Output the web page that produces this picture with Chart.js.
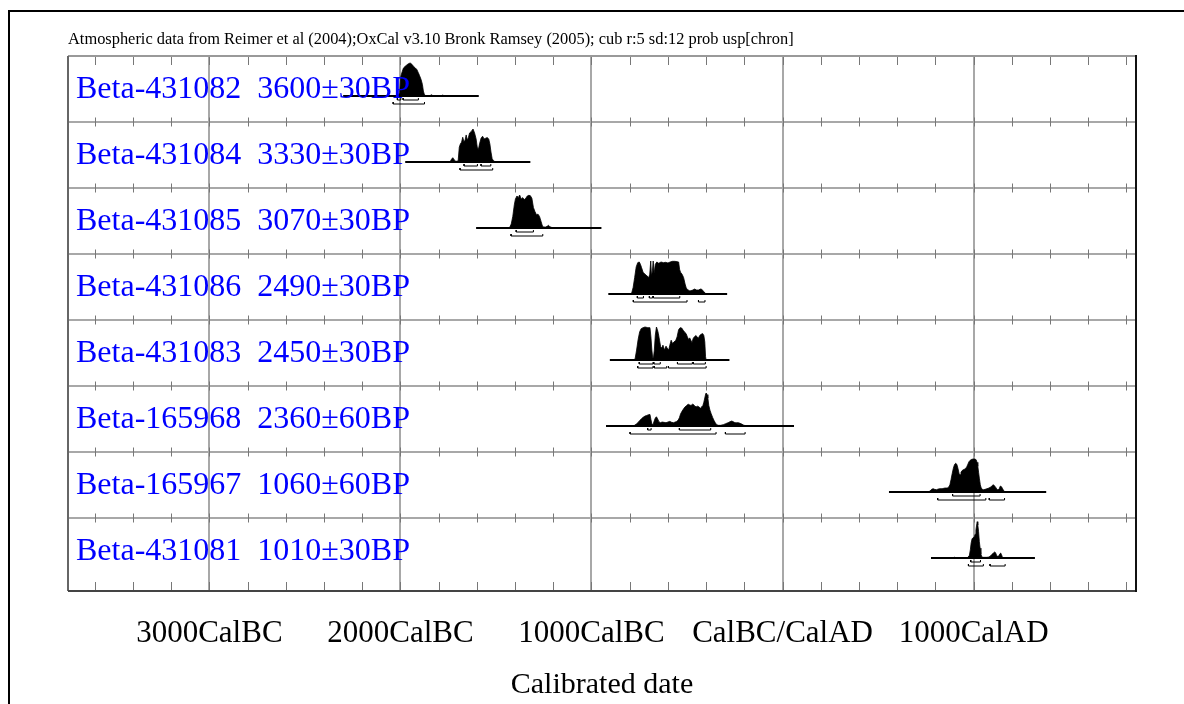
<!DOCTYPE html>
<html><head><meta charset="utf-8">
<script src="https://cdn.jsdelivr.net/npm/chart.js@4.4.1/dist/chart.umd.min.js"></script>
<style>html,body{margin:0;padding:0;background:#fff;}canvas{display:block;}</style>
</head><body>
<canvas id="c" width="1184" height="704"></canvas>
<script>
// ---------- text ----------
const headerText = 'Atmospheric data from Reimer et al (2004);OxCal v3.10 Bronk Ramsey (2005); cub r:5 sd:12 prob usp[chron]';
const axisTitle = 'Calibrated date';
const tickValues = [-3000, -2000, -1000, 0, 1000];
const tickLabels = ['3000CalBC', '2000CalBC', '1000CalBC', 'CalBC/CalAD', '1000CalAD'];
const sampleLabels = [
  'Beta-431082  3600\u00b130BP',
  'Beta-431084  3330\u00b130BP',
  'Beta-431085  3070\u00b130BP',
  'Beta-431086  2490\u00b130BP',
  'Beta-431083  2450\u00b130BP',
  'Beta-165968  2360\u00b160BP',
  'Beta-165967  1060\u00b160BP',
  'Beta-431081  1010\u00b130BP'
];
// calibration plot range of each sample (years, BC negative)
const plotRanges = [[-2300, -1590], [-1975, -1320], [-1604, -948], [-912, -290], [-904, -278], [-924, 60], [557, 1380], [777, 1321]];

// probability distributions [year, relative probability]
const beta431082 = [[-2040,0],[-2010,0.03],[-2004,0.1],[-1998,0.6],[-1990,0.75],[-1984,0.85],[-1975,0.9],[-1967,0.94],[-1958,0.98],[-1949,1.0],[-1940,0.96],[-1932,0.9],[-1922,0.85],[-1914,0.8],[-1906,0.7],[-1900,0.62],[-1892,0.5],[-1885,0.35],[-1880,0.15],[-1874,0.03],[-1866,0.01],[-1845,0.01],[-1838,0.04],[-1830,0.01],[-1800,0.01],[-1785,0.01],[-1778,0.03],[-1770,0]];
const beta431084 = [[-1760,0],[-1740,0.01],[-1733,0.08],[-1726,0.13],[-1718,0.06],[-1710,0.02],[-1698,0.03],[-1692,0.45],[-1686,0.55],[-1680,0.6],[-1674,0.75],[-1668,0.62],[-1662,0.65],[-1656,0.82],[-1650,0.66],[-1644,0.75],[-1638,0.88],[-1630,0.92],[-1620,1.0],[-1612,0.88],[-1604,0.7],[-1598,0.45],[-1592,0.38],[-1586,0.55],[-1578,0.72],[-1570,0.78],[-1562,0.7],[-1554,0.72],[-1546,0.74],[-1538,0.7],[-1532,0.55],[-1526,0.3],[-1520,0.1],[-1512,0.03],[-1500,0]];
const beta431085 = [[-1440,0],[-1428,0.02],[-1420,0.12],[-1412,0.35],[-1404,0.7],[-1398,0.88],[-1390,0.97],[-1383,0.92],[-1376,1.0],[-1368,0.88],[-1360,0.92],[-1352,0.86],[-1344,0.9],[-1336,0.97],[-1328,0.99],[-1320,0.98],[-1312,0.9],[-1304,0.62],[-1296,0.5],[-1288,0.4],[-1280,0.42],[-1272,0.35],[-1264,0.2],[-1257,0.06],[-1250,0.03],[-1240,0.03],[-1232,0.05],[-1225,0.08],[-1218,0.04],[-1210,0.02],[-1195,0]];
const beta431086 = [[-800,0],[-790,0.02],[-782,0.2],[-774,0.5],[-766,0.82],[-758,0.95],[-750,0.97],[-744,0.9],[-738,0.8],[-730,0.66],[-720,0.6],[-710,0.55],[-700,0.5],[-695,0.6],[-690,1.0],[-686,0.55],[-681,0.7],[-677,1.0],[-672,0.62],[-666,0.9],[-658,0.97],[-648,0.93],[-636,0.97],[-624,0.95],[-612,0.96],[-600,0.94],[-588,0.97],[-576,0.99],[-564,0.99],[-552,0.98],[-544,0.97],[-539,0.75],[-534,0.66],[-526,0.6],[-518,0.5],[-510,0.3],[-504,0.18],[-496,0.13],[-488,0.1],[-480,0.1],[-470,0.12],[-460,0.15],[-450,0.12],[-440,0.12],[-430,0.15],[-422,0.14],[-414,0.08],[-408,0.05],[-402,0.01],[-395,0]];
const beta431083 = [[-780,0],[-772,0.03],[-764,0.3],[-756,0.62],[-748,0.85],[-740,0.95],[-730,0.98],[-720,1.0],[-705,0.98],[-694,0.98],[-689,0.7],[-684,0.3],[-680,0.08],[-676,0.05],[-671,0.3],[-666,0.75],[-660,1.0],[-655,0.92],[-650,0.8],[-644,0.6],[-638,0.4],[-632,0.36],[-626,0.45],[-618,0.3],[-610,0.42],[-604,0.36],[-596,0.3],[-590,0.45],[-583,0.6],[-576,0.5],[-568,0.55],[-560,0.58],[-552,0.7],[-544,0.92],[-536,0.98],[-528,0.97],[-520,0.9],[-512,0.84],[-505,0.8],[-498,0.7],[-492,0.62],[-486,0.67],[-480,0.6],[-474,0.52],[-468,0.65],[-462,0.7],[-454,0.74],[-446,0.7],[-440,0.66],[-434,0.74],[-426,0.78],[-418,0.8],[-412,0.74],[-407,0.55],[-403,0.1],[-400,0]];
const beta165968 = [[-790,0],[-775,0.02],[-765,0.06],[-754,0.12],[-745,0.18],[-737,0.23],[-728,0.27],[-720,0.3],[-711,0.32],[-702,0.34],[-694,0.35],[-689,0.2],[-684,0.06],[-678,0.04],[-672,0.15],[-666,0.24],[-660,0.28],[-654,0.22],[-648,0.14],[-640,0.1],[-630,0.12],[-620,0.11],[-610,0.1],[-600,0.12],[-590,0.14],[-580,0.11],[-570,0.1],[-562,0.12],[-554,0.14],[-546,0.18],[-540,0.25],[-534,0.36],[-526,0.45],[-518,0.52],[-510,0.58],[-502,0.62],[-494,0.66],[-486,0.64],[-479,0.62],[-472,0.66],[-466,0.65],[-459,0.6],[-452,0.58],[-445,0.6],[-438,0.58],[-430,0.54],[-423,0.58],[-417,0.62],[-412,0.72],[-407,0.85],[-402,0.98],[-399,1.0],[-395,0.95],[-391,0.85],[-386,0.62],[-380,0.48],[-374,0.38],[-366,0.26],[-358,0.16],[-352,0.1],[-345,0.04],[-335,0.02],[-325,0.02],[-310,0.04],[-298,0.07],[-285,0.1],[-275,0.13],[-266,0.15],[-258,0.13],[-249,0.1],[-240,0.1],[-231,0.1],[-222,0.08],[-214,0.06],[-205,0.03],[-195,0.01],[-185,0]];
const beta165967 = [[740,0],[765,0.01],[772,0.03],[780,0.08],[788,0.1],[796,0.08],[806,0.07],[815,0.09],[824,0.1],[835,0.1],[850,0.12],[862,0.12],[870,0.15],[876,0.22],[882,0.38],[888,0.56],[894,0.72],[900,0.83],[906,0.87],[912,0.84],[918,0.72],[924,0.56],[929,0.52],[934,0.6],[940,0.65],[948,0.68],[956,0.7],[964,0.76],[970,0.84],[976,0.92],[982,0.96],[990,0.99],[998,1.0],[1006,1.0],[1013,0.98],[1018,0.9],[1022,0.78],[1026,0.6],[1030,0.42],[1035,0.22],[1040,0.12],[1046,0.08],[1052,0.07],[1060,0.08],[1070,0.1],[1080,0.12],[1090,0.15],[1098,0.2],[1104,0.22],[1110,0.18],[1116,0.14],[1122,0.08],[1128,0.06],[1134,0.1],[1140,0.18],[1146,0.16],[1152,0.1],[1158,0.03],[1165,0.01],[1175,0]];
const beta431081 = [[880,0],[896,0],[902,0.03],[908,0],[960,0],[970,0.02],[978,0.08],[983,0.25],[987,0.45],[992,0.58],[998,0.62],[1004,0.64],[1008,0.72],[1012,0.85],[1016,1.0],[1019,1.1],[1022,1.0],[1026,0.8],[1030,0.5],[1034,0.3],[1038,0.12],[1042,0.05],[1048,0.02],[1060,0.02],[1070,0.02],[1080,0.03],[1088,0.06],[1096,0.11],[1104,0.15],[1110,0.18],[1115,0.16],[1120,0.08],[1126,0.05],[1132,0.06],[1138,0.13],[1142,0.15],[1146,0.1],[1150,0.04],[1155,0.01],[1162,0]];

// 68.2% and 95.4% ranges
const oneSigma = [
  [[-2016,-1998],[-1986,-1906]],
  [[-1667,-1597],[-1578,-1527]],
  [[-1394,-1304]],
  [[-760,-728],[-697,-680],[-676,-538]],
  [[-750,-678],[-674,-640],[-550,-472],[-467,-404]],
  [[-706,-688],[-540,-376]],
  [[890,1034]],
  [[985,1036]]
];
const twoSigma = [
  [[-2038,-1874]],
  [[-1688,-1517]],
  [[-1421,-1255]],
  [[-781,-500],[-440,-406]],
  [[-758,-678],[-672,-606],[-597,-400]],
  [[-798,-348],[-299,-196]],
  [[812,1064],[1082,1162]],
  [[973,1051],[1086,1165]]
];
const distributions = [beta431082, beta431084, beta431085, beta431086, beta431083, beta165968, beta165967, beta431081];

// ---------- layout constants (in row units; one row = 66px) ----------
const ROW_PX = 66;
const BASE = 40 / ROW_PX, PEAK = 33 / ROW_PX, S1 = 4 / ROW_PX, S2 = 8 / ROW_PX, END = 2 / ROW_PX;
const YMAX = 535 / ROW_PX;
const SERIF = '"Liberation Serif", "Times New Roman", serif';

const datasets = [];
distributions.forEach((pairs, i) => {
  const base = i + BASE;
  datasets.push({
    data: pairs.map(([x, p]) => ({ x, y: base - p * PEAK })),
    fill: { value: base }, backgroundColor: '#000', borderColor: '#000', borderWidth: 0.8,
    pointRadius: 0, tension: 0
  });
  datasets.push({
    data: [{ x: plotRanges[i][0], y: base }, { x: plotRanges[i][1], y: base }],
    fill: false, borderColor: '#000', borderWidth: 2, pointRadius: 0
  });
  [[oneSigma[i], S1], [twoSigma[i], S2]].forEach(([rs, off]) => {
    const pts = [];
    rs.forEach(([a, b]) => {
      const y = base + off;
      pts.push({ x: a, y: y - END }, { x: a, y }, { x: b, y }, { x: b, y: y - END }, { x: b, y: null });
    });
    datasets.push({ data: pts, fill: false, borderColor: '#000', borderWidth: 1, pointRadius: 0, spanGaps: false });
  });
});

const decorPlugin = {
  id: 'decor',
  beforeDraw(chart) {
    const ctx = chart.ctx;
    ctx.save();
    ctx.fillStyle = '#fff';
    ctx.fillRect(0, 0, chart.width, chart.height);
    ctx.strokeStyle = '#000'; ctx.lineWidth = 2;
    ctx.beginPath();
    ctx.moveTo(9, chart.height + 2); ctx.lineTo(9, 11); ctx.lineTo(chart.width + 2, 11);
    ctx.stroke();
    ctx.restore();
  },
  afterDatasetsDraw(chart) {
    const ctx = chart.ctx, a = chart.chartArea, xs = chart.scales.x, ys = chart.scales.y;
    ctx.save();
    // minor ticks every 200 years
    ctx.strokeStyle = '#777'; ctx.lineWidth = 1;
    ctx.beginPath();
    for (let v = -3600; v <= 1800; v += 200) {
      const px = Math.round(xs.getPixelForValue(v)) + 0.5;
      ctx.moveTo(px, a.top); ctx.lineTo(px, a.top + 9);
      ctx.moveTo(px, a.bottom - 9); ctx.lineTo(px, a.bottom);
      for (let r = 1; r <= 7; r++) {
        const py = ys.getPixelForValue(r);
        ctx.moveTo(px, py - 4.5); ctx.lineTo(px, py + 4.5);
      }
    }
    ctx.stroke();
    // plot frame
    const seg = (x1, y1, x2, y2, c, w) => { ctx.strokeStyle = c; ctx.lineWidth = w; ctx.beginPath(); ctx.moveTo(x1, y1); ctx.lineTo(x2, y2); ctx.stroke(); };
    seg(a.left, a.top, a.right, a.top, '#999', 2);
    seg(a.left, a.top, a.left, a.bottom, '#666', 2);
    seg(a.left, a.bottom, a.right, a.bottom, '#444', 2);
    seg(a.right, a.top - 1, a.right, a.bottom + 1, '#111', 2);
    // sample labels
    ctx.fillStyle = '#0000ff';
    ctx.font = '32px ' + SERIF;
    ctx.textBaseline = 'alphabetic'; ctx.textAlign = 'left';
    sampleLabels.forEach((t, i) => {
      ctx.fillText(t, a.left + 8, ys.getPixelForValue(i) + 42);
    });
    // header
    ctx.fillStyle = '#000';
    ctx.font = '16.4px ' + SERIF;
    ctx.fillText(headerText, a.left, 44);
    ctx.restore();
  }
};

new Chart(document.getElementById('c'), {
  type: 'line',
  data: { datasets },
  options: {
    responsive: false, devicePixelRatio: 1, animation: false,
    layout: { padding: { left: 68, right: 48, top: 56, bottom: 0 } },
    plugins: { legend: { display: false }, tooltip: { enabled: false }, title: { display: false } },
    scales: {
      x: {
        type: 'linear', min: -3740, max: 1850, position: 'bottom',
        afterBuildTicks: s => { s.ticks = tickValues.map(v => ({ value: v })); },
        afterFit: s => { s.height = 113; },
        grid: { color: '#a8a8a8', lineWidth: 2, drawTicks: false },
        border: { display: false },
        ticks: {
          autoSkip: false, maxRotation: 0, padding: 24, color: '#000',
          font: { family: SERIF, size: 31 },
          callback: (v, i) => tickLabels[i]
        },
        title: { display: true, text: axisTitle, color: '#000', font: { family: SERIF, size: 30 }, padding: { top: 0, bottom: 1 } }
      },
      y: {
        type: 'linear', min: 0, max: YMAX, reverse: true,
        afterBuildTicks: s => { s.ticks = [1, 2, 3, 4, 5, 6, 7].map(v => ({ value: v })); },
        afterFit: s => { s.width = 0; },
        grid: { color: '#a8a8a8', lineWidth: 2, drawTicks: false },
        border: { display: false },
        ticks: { display: false }
      }
    }
  },
  plugins: [decorPlugin]
});
</script>
</body></html>
